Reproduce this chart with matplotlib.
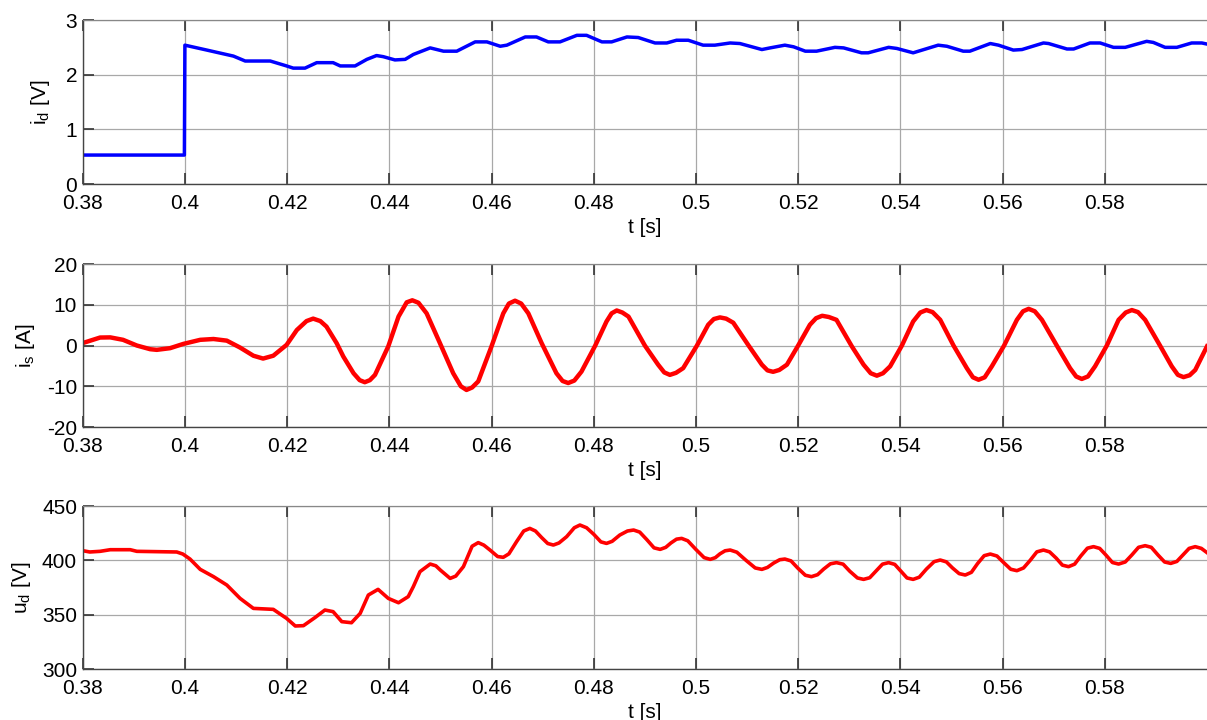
import numpy as np
import matplotlib
matplotlib.use('Agg')
import matplotlib.pyplot as plt

plt.rcParams['font.family'] = ['Liberation Sans', 'DejaVu Sans']
plt.rcParams['mathtext.default'] = 'regular'

# time ticks shared by the three panels
t_ticks = [0.38, 0.40, 0.42, 0.44, 0.46, 0.48, 0.50, 0.52, 0.54, 0.56, 0.58]
t_labels = ['0.38', '0.4', '0.42', '0.44', '0.46', '0.48', '0.5', '0.52', '0.54', '0.56', '0.58']

# id [V]
t_id = [0.3800, 0.3999, 0.4000, 0.4043, 0.4095, 0.4118, 0.4167, 0.4199, 0.4212, 0.4235,
        0.4258, 0.4290, 0.4304, 0.4333, 0.4356, 0.4375, 0.4388, 0.4411, 0.4431, 0.4447,
        0.4480, 0.4506, 0.4532, 0.4568, 0.4591, 0.4617, 0.4630, 0.4666, 0.4688, 0.4711,
        0.4734, 0.4767, 0.4786, 0.4816, 0.4835, 0.4865, 0.4887, 0.4920, 0.4943, 0.4962,
        0.4985, 0.5014, 0.5037, 0.5067, 0.5086, 0.5129, 0.5145, 0.5174, 0.5191, 0.5214,
        0.5236, 0.5272, 0.5289, 0.5324, 0.5337, 0.5377, 0.5393, 0.5425, 0.5474, 0.5491,
        0.5523, 0.5536, 0.5576, 0.5592, 0.5621, 0.5638, 0.5680, 0.5690, 0.5726, 0.5739,
        0.5771, 0.5791, 0.5817, 0.5840, 0.5882, 0.5895, 0.5918, 0.5941, 0.5970, 0.5990,
        0.6000]
id_val = [0.53, 0.53, 2.54, 2.45, 2.34, 2.25, 2.25, 2.16, 2.12, 2.12,
          2.22, 2.22, 2.16, 2.16, 2.28, 2.35, 2.33, 2.27, 2.28, 2.37,
          2.49, 2.43, 2.43, 2.60, 2.60, 2.52, 2.54, 2.69, 2.69, 2.60,
          2.60, 2.72, 2.72, 2.60, 2.60, 2.69, 2.68, 2.58, 2.58, 2.63,
          2.63, 2.54, 2.54, 2.58, 2.57, 2.46, 2.49, 2.54, 2.51, 2.43,
          2.43, 2.50, 2.49, 2.40, 2.40, 2.50, 2.48, 2.40, 2.54, 2.52,
          2.43, 2.43, 2.57, 2.54, 2.45, 2.46, 2.58, 2.57, 2.47, 2.47,
          2.58, 2.58, 2.50, 2.50, 2.61, 2.59, 2.50, 2.50, 2.58, 2.58,
          2.56]

# is [A]
t_is = [0.3800, 0.3834, 0.3854, 0.3879, 0.3906, 0.3932, 0.3945, 0.3971, 0.3997, 0.4030,
        0.4056, 0.4082, 0.4108, 0.4134, 0.4153, 0.4173, 0.4199, 0.4219, 0.4238, 0.4251,
        0.4265, 0.4277, 0.4297, 0.4310, 0.4330, 0.4342, 0.4352, 0.4362, 0.4372, 0.4398,
        0.4418, 0.4434, 0.4445, 0.4457, 0.4473, 0.4499, 0.4525, 0.4540, 0.4551, 0.4562,
        0.4574, 0.4600, 0.4623, 0.4634, 0.4646, 0.4658, 0.4672, 0.4698, 0.4727, 0.4739,
        0.4750, 0.4762, 0.4776, 0.4803, 0.4825, 0.4835, 0.4845, 0.4856, 0.4868, 0.4900,
        0.4926, 0.4938, 0.4949, 0.4961, 0.4975, 0.5002, 0.5024, 0.5035, 0.5047, 0.5059,
        0.5073, 0.5103, 0.5129, 0.5140, 0.5151, 0.5163, 0.5178, 0.5200, 0.5223, 0.5235,
        0.5247, 0.5260, 0.5275, 0.5305, 0.5328, 0.5342, 0.5354, 0.5366, 0.5380, 0.5403,
        0.5425, 0.5439, 0.5451, 0.5463, 0.5478, 0.5504, 0.5530, 0.5542, 0.5553, 0.5565,
        0.5579, 0.5603, 0.5628, 0.5640, 0.5651, 0.5663, 0.5677, 0.5706, 0.5732, 0.5744,
        0.5755, 0.5767, 0.5781, 0.5804, 0.5827, 0.5841, 0.5853, 0.5865, 0.5879, 0.5908,
        0.5931, 0.5943, 0.5954, 0.5966, 0.5977, 0.6000]
is_val = [0.6, 1.96, 2.0, 1.4, 0.0, -0.9, -1.06, -0.65, 0.4, 1.4,
          1.6, 1.2, -0.5, -2.5, -3.2, -2.5, 0.16, 3.8, 6.0, 6.6,
          6.0, 4.65, 0.57, -2.7, -6.8, -8.5, -9.0, -8.5, -7.2, -0.2,
          7.1, 10.6, 11.1, 10.5, 7.9, 0.6, -6.8, -10.0, -10.9, -10.3,
          -8.8, -0.2, 7.9, 10.3, 11.0, 10.3, 7.9, 0.6, -6.8, -8.7,
          -9.2, -8.6, -6.4, 0.0, 5.9, 7.9, 8.6, 8.1, 7.1, 0.0,
          -4.7, -6.6, -7.2, -6.7, -5.55, 0.0, 5.1, 6.5, 6.9, 6.6,
          5.6, 0.0, -4.7, -6.1, -6.45, -6.0, -4.7, 0.0, 5.1, 6.7,
          7.3, 7.0, 6.3, -0.2, -4.7, -6.8, -7.4, -6.8, -5.1, 0.0,
          5.9, 8.1, 8.7, 8.2, 6.3, 0.0, -5.55, -7.8, -8.4, -7.8,
          -5.1, 0.0, 6.3, 8.4, 9.0, 8.4, 6.3, 0.0, -5.55, -7.6,
          -8.2, -7.6, -5.1, 0.0, 6.3, 8.1, 8.7, 8.2, 6.3, 0.0,
          -5.1, -7.2, -7.75, -7.3, -6.0, -0.2]

# ud [V]
t_ud = [0.3800, 0.3814, 0.3834, 0.3854, 0.3893, 0.3906, 0.3984, 0.3996, 0.4010, 0.4030,
        0.4056, 0.4082, 0.4108, 0.4134, 0.4173, 0.4199, 0.4216, 0.4232, 0.4255, 0.4274,
        0.4290, 0.4307, 0.4326, 0.4343, 0.4359, 0.4378, 0.4398, 0.4418, 0.4437, 0.4447,
        0.4460, 0.4480, 0.4491, 0.4500, 0.4519, 0.4530, 0.4545, 0.4562, 0.4574, 0.4585,
        0.4597, 0.4612, 0.4623, 0.4634, 0.4649, 0.4663, 0.4675, 0.4686, 0.4698, 0.4710,
        0.4721, 0.4732, 0.4747, 0.4762, 0.4773, 0.4786, 0.4800, 0.4814, 0.4825, 0.4836,
        0.4851, 0.4866, 0.4878, 0.4890, 0.4904, 0.4918, 0.4930, 0.4941, 0.4951, 0.4962,
        0.4972, 0.4984, 0.5000, 0.5016, 0.5028, 0.5038, 0.5047, 0.5057, 0.5067, 0.5080,
        0.5098, 0.5116, 0.5129, 0.5140, 0.5152, 0.5164, 0.5174, 0.5186, 0.5199, 0.5214,
        0.5226, 0.5238, 0.5250, 0.5263, 0.5275, 0.5288, 0.5301, 0.5316, 0.5328, 0.5340,
        0.5352, 0.5365, 0.5377, 0.5389, 0.5401, 0.5413, 0.5425, 0.5437, 0.5451, 0.5466,
        0.5478, 0.5490, 0.5502, 0.5515, 0.5527, 0.5539, 0.5551, 0.5564, 0.5576, 0.5589,
        0.5602, 0.5616, 0.5628, 0.5641, 0.5654, 0.5667, 0.5680, 0.5692, 0.5705, 0.5717,
        0.5729, 0.5741, 0.5753, 0.5766, 0.5778, 0.5790, 0.5802, 0.5815, 0.5827, 0.5840,
        0.5853, 0.5866, 0.5879, 0.5891, 0.5904, 0.5917, 0.5929, 0.5941, 0.5953, 0.5965,
        0.5977, 0.5989, 0.6000]
ud_val = [408.9, 407.7, 408.3, 409.8, 409.8, 408.3, 407.7, 405.8, 401.2, 391.7,
          385.0, 377.3, 365.0, 355.8, 354.9, 346.6, 339.6, 339.9, 347.5, 354.3,
          352.8, 343.6, 342.6, 351.2, 368.1, 373.3, 365.0, 361.0, 366.6, 375.8,
          389.6, 396.6, 395.0, 391.0, 383.4, 385.5, 394.2, 413.0, 416.3, 414.0,
          409.5, 403.5, 402.8, 406.0, 417.2, 427.0, 429.4, 427.0, 421.0, 415.5,
          414.1, 416.0, 421.8, 430.0, 432.5, 430.0, 424.0, 417.0, 415.6, 417.5,
          423.3, 427.0, 427.9, 426.0, 419.0, 411.5, 410.1, 412.0, 416.0, 419.5,
          420.2, 418.0, 410.0, 402.5, 400.9, 402.5, 406.0, 408.8, 409.5, 407.5,
          400.0, 393.0, 391.7, 393.5, 397.5, 400.6, 401.2, 399.5, 393.0, 386.3,
          385.0, 386.8, 392.0, 396.8, 397.9, 396.5, 390.0, 383.8, 382.5, 384.0,
          390.0, 396.5, 397.9, 396.3, 390.0, 383.8, 382.5, 384.5, 392.0, 398.8,
          400.3, 398.6, 393.0, 387.8, 386.5, 389.0, 397.0, 404.3, 405.8, 404.0,
          398.0, 391.8, 390.5, 393.0, 400.0, 407.8, 409.5, 407.8, 402.0, 395.6,
          394.2, 396.5, 404.0, 411.2, 412.6, 411.0, 405.0, 398.0, 396.6, 398.5,
          405.0, 412.0, 413.5, 412.0, 405.0, 398.5, 397.2, 399.0, 405.0, 411.0,
          412.6, 411.0, 407.1]

panels = [
    (t_id, id_val, '#0000ff', 2.5, (0, 3), [0, 1, 2, 3], ['0', '1', '2', '3'], 'i$_d$ [V]', -0.027),
    (t_is, is_val, '#ff0000', 3.2, (-20, 20), [-20, -10, 0, 10, 20], ['-20', '-10', '0', '10', '20'], 'i$_s$ [A]', -0.041),
    (t_ud, ud_val, '#ff0000', 2.6, (300, 450), [300, 350, 400, 450], ['300', '350', '400', '450'], 'u$_d$ [V]', -0.044),
]
# [left, bottom, width, height] in figure fraction
boxes = [[0.0685, 0.7444, 0.9315, 0.2278],
         [0.0685, 0.4069, 0.9315, 0.2264],
         [0.0685, 0.0708, 0.9315, 0.2264]]

fig = plt.figure(figsize=(12.07, 7.2), dpi=100)

for (t, y, col, lw, ylim, yt, ytl, ylab, ylx), box in zip(panels, boxes):
    ax = fig.add_axes(box)
    ax.plot(t, y, color=col, lw=lw, solid_joinstyle='round')
    ax.set_xlim(0.38, 0.60)
    ax.set_ylim(*ylim)
    ax.set_xticks(t_ticks)
    ax.set_xticklabels(t_labels)
    ax.set_yticks(yt)
    ax.set_yticklabels(ytl)
    ax.grid(True, color='#a8a8a8', lw=0.9)
    ax.set_axisbelow(True)
    for s in ['left', 'bottom']:
        ax.spines[s].set_color('#444444')
        ax.spines[s].set_linewidth(1.0)
    ax.spines['top'].set_color('#888888')
    ax.spines['top'].set_linewidth(0.9)
    ax.spines['right'].set_visible(False)
    ax.tick_params(axis='both', direction='in', length=8, width=1.2, color='#333333',
                   labelsize=15, top=True, labelcolor='black')
    ax.tick_params(axis='x', pad=7)
    ax.tick_params(axis='y', pad=4)
    ax.set_xlabel('t [s]', fontsize=15)
    ax.xaxis.set_label_coords(0.5, -0.21)
    ax.set_ylabel(ylab, fontsize=15)
    ax.yaxis.set_label_coords(ylx, 0.5)

fig.savefig('out.png', dpi=100)
